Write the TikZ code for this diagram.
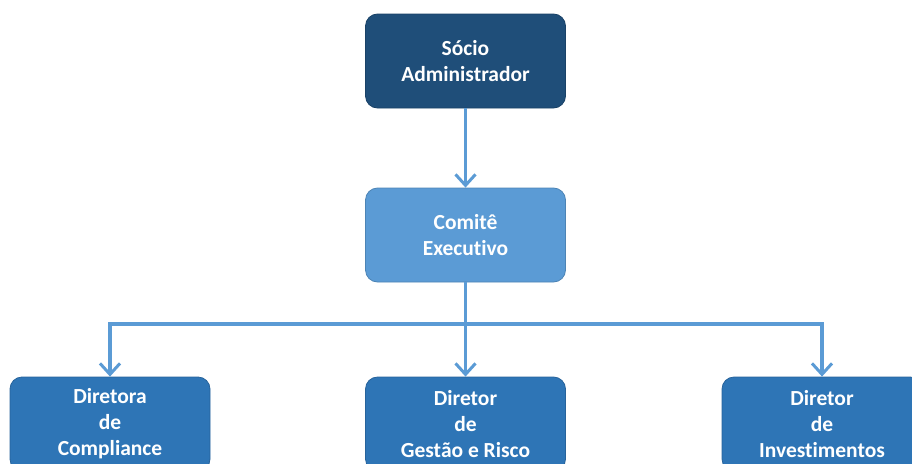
\documentclass[tikz,border=0pt]{standalone}
\usepackage{fontspec}
\setmainfont{Carlito}[Ligatures={NoCommon}]
\usetikzlibrary{arrows.meta}
\definecolor{topblue}{HTML}{1F4E79}
\definecolor{midblue}{HTML}{5B9BD5}
\definecolor{botblue}{HTML}{2E75B6}
\definecolor{lineblue}{HTML}{5B9BD5}
\tikzset{
  orgbox/.style={rectangle, rounded corners=12pt, minimum width=200pt, minimum height=94pt,
    inner sep=0pt, align=center, text=white, font=\bfseries\fontsize{21.5}{26}\selectfont, line width=0.8pt},
  topbox/.style={orgbox, fill=topblue, draw=topblue!85!black},
  midbox/.style={orgbox, fill=midblue, draw=midblue!85!black},
  botbox/.style={orgbox, fill=botblue, draw=botblue!85!black},
  conn/.style={draw=lineblue, line width=3.5pt},
  arr/.style={conn, -{Straight Barb[length=11pt,width=20pt,line width=3pt]}}
}
\begin{document}
\begin{tikzpicture}[x=1pt,y=-1pt]
\useasboundingbox (0,0) rectangle (912,463);
\clip (0,0) rectangle (912,463);
\node[topbox] (socio) at (465.5,61) {Sócio\\Administrador};
\node[midbox] (comite) at (465.5,235) {Comitê\\Executivo};
\node[botbox] (compl) at (110,424) {Diretora\\de\\Compliance};
\node[botbox] (gestao) at (465.5,424) {Diretor\\de\\Gestão e Risco};
\node[botbox] (invest) at (822,424) {Diretor\\de\\Investimentos};
\coordinate (junc) at (465.5,324);
\draw[arr] (socio) -- (comite);
\draw[conn] (comite) -- (junc);
\draw[arr] (junc) -- (gestao);
\draw[arr] (junc) -| (compl);
\draw[arr] (junc) -| (invest);
\end{tikzpicture}
\end{document}
